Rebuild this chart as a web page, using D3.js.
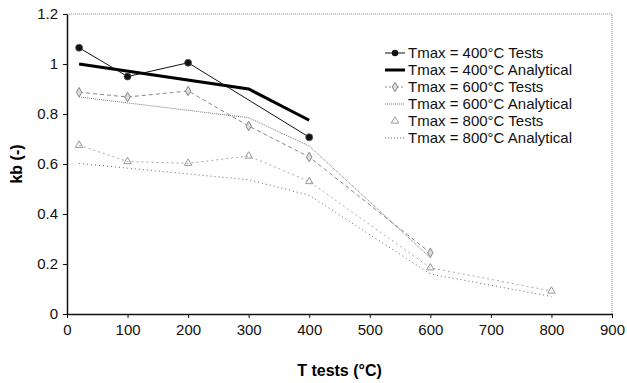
<!DOCTYPE html>
<meta charset="utf-8">
<style>
    body { margin: 0; padding: 0; background: #fff; }
    text { font-family: Arial, "Liberation Sans", sans-serif; }
    .axis text { font-size: 15px; fill: #111; }
    .axis path, .axis line { stroke: #111; }
</style>
<body>
<script src="https://d3js.org/d3.v7.min.js"></script>
<script>
    // data
    var t400Tests = [[20, 1.065], [100, 0.95], [200, 1.005], [400, 0.707]];
    var t400Anal = [[20, 1.0], [300, 0.9], [400, 0.775]];
    var t600Tests = [[20, 0.887], [100, 0.868], [200, 0.892], [300, 0.752], [400, 0.628], [600, 0.245]];
    var t600Anal = [[20, 0.868], [300, 0.785], [400, 0.672], [600, 0.225]];
    var t800Tests = [[20, 0.675], [100, 0.61], [200, 0.603], [300, 0.632], [400, 0.53], [600, 0.185], [800, 0.092]];
    var t800Anal = [[20, 0.602], [300, 0.537], [400, 0.475], [600, 0.16], [800, 0.07]];
    var xTicks = [0, 100, 200, 300, 400, 500, 600, 700, 800, 900];
    var yTicks = [0, 0.2, 0.4, 0.6, 0.8, 1, 1.2];
    var legendLabels = ["Tmax = 400°C Tests", "Tmax = 400°C Analytical", "Tmax = 600°C Tests",
        "Tmax = 600°C Analytical", "Tmax = 800°C Tests", "Tmax = 800°C Analytical"];

    var width = 627, height = 383;
    var margin = {top: 14, right: 15, bottom: 69, left: 67};

    var svg = d3.select("body").append("svg")
        .attr("width", width)
        .attr("height", height);

    var x = d3.scaleLinear().domain([0, 900]).range([margin.left, width - margin.right]);
    var y = d3.scaleLinear().domain([0, 1.2]).range([height - margin.bottom, margin.top]);

    // plot area border (dotted top/right)
    svg.append("path")
        .attr("d", "M" + x(0) + "," + y(1.2) + "H" + x(900) + "V" + y(0))
        .attr("fill", "none")
        .attr("stroke", "#888")
        .attr("stroke-width", 1)
        .attr("stroke-dasharray", "1,1");

    var line = d3.line().x(function(d) { return x(d[0]); }).y(function(d) { return y(d[1]); });

    var series = [
        {data: t800Anal, stroke: "#666", width: 1, dash: "1,3"},
        {data: t800Tests, stroke: "#aaa", width: 1, dash: "2,3"},
        {data: t600Anal, stroke: "#777", width: 1, dash: "1,1"},
        {data: t600Tests, stroke: "#888", width: 1, dash: "4,3"},
        {data: t400Anal, stroke: "#000", width: 3, dash: null},
        {data: t400Tests, stroke: "#111", width: 1, dash: null}
    ];

    series.forEach(function(s) {
        svg.append("path")
            .datum(s.data)
            .attr("d", line)
            .attr("fill", "none")
            .attr("stroke", s.stroke)
            .attr("stroke-width", s.width)
            .attr("stroke-dasharray", s.dash);
    });

    var diamond = d3.symbol().type(d3.symbolDiamond).size(26);
    var triangle = d3.symbol().type(d3.symbolTriangle).size(24);

    svg.append("g").selectAll("path")
        .data(t800Tests)
        .enter().append("path")
        .attr("d", triangle)
        .attr("transform", function(d) { return "translate(" + x(d[0]) + "," + y(d[1]) + ")"; })
        .attr("fill", "none")
        .attr("stroke", "#999");

    svg.append("g").selectAll("path")
        .data(t600Tests)
        .enter().append("path")
        .attr("d", diamond)
        .attr("transform", function(d) { return "translate(" + x(d[0]) + "," + y(d[1]) + ")"; })
        .attr("fill", "#ddd")
        .attr("stroke", "#888");

    svg.append("g").selectAll("circle")
        .data(t400Tests)
        .enter().append("circle")
        .attr("cx", function(d) { return x(d[0]); })
        .attr("cy", function(d) { return y(d[1]); })
        .attr("r", 3.5)
        .attr("fill", "#111")
        .attr("stroke", "#555")
        .attr("stroke-width", 0.8);

    // axes
    svg.append("g")
        .attr("class", "axis")
        .attr("transform", "translate(0," + y(0) + ")")
        .call(d3.axisBottom(x).tickValues(xTicks).tickSize(4).tickSizeOuter(0).tickPadding(6))
        .call(function(g) { g.select(".domain").attr("stroke-width", 1.5); });

    svg.append("g")
        .attr("class", "axis")
        .attr("transform", "translate(" + x(0) + ",0)")
        .call(d3.axisLeft(y).tickValues(yTicks).tickSize(4).tickSizeOuter(0).tickPadding(5)
            .tickFormat(function(d) { return d3.format("")(+d.toFixed(1)); }))
        .call(function(g) { g.select(".domain").attr("stroke-width", 1.5); });

    // axis titles
    svg.append("text")
        .attr("x", (x(0) + x(900)) / 2)
        .attr("y", 376)
        .attr("text-anchor", "middle")
        .style("font-size", "16px")
        .style("font-weight", "bold")
        .text("T tests (°C)");

    svg.append("text")
        .attr("transform", "translate(22," + ((y(0) + y(1.2)) / 2) + ") rotate(-90)")
        .attr("text-anchor", "middle")
        .style("font-size", "16px")
        .style("font-weight", "bold")
        .text("kb (-)");

    // legend
    var legend = svg.append("g").attr("transform", "translate(385,53)");
    var keys = [
        {stroke: "#111", width: 1, dash: null, mark: "circle"},
        {stroke: "#000", width: 3, dash: null, mark: null},
        {stroke: "#888", width: 1, dash: "2,2", mark: "diamond"},
        {stroke: "#777", width: 1, dash: "1,1", mark: null},
        {stroke: "none", width: 1, dash: null, mark: "triangle"},
        {stroke: "#666", width: 1, dash: "1,2", mark: null}
    ];
    keys.forEach(function(k, i) {
        var g = legend.append("g").attr("transform", "translate(0," + (i * 17) + ")");
        g.append("line")
            .attr("x1", 0).attr("x2", 20).attr("y1", 0).attr("y2", 0)
            .attr("stroke", k.stroke)
            .attr("stroke-width", k.width)
            .attr("stroke-dasharray", k.dash);
        if (k.mark === "circle") {
            g.append("circle").attr("cx", 10).attr("cy", 0).attr("r", 3.2).attr("fill", "#111");
        } else if (k.mark === "diamond") {
            g.append("path").attr("d", diamond).attr("transform", "translate(10,0)")
                .attr("fill", "#ddd").attr("stroke", "#888");
        } else if (k.mark === "triangle") {
            g.append("path").attr("d", triangle).attr("transform", "translate(10,0)")
                .attr("fill", "none").attr("stroke", "#999");
        }
        g.append("text")
            .attr("x", 23)
            .attr("y", 0)
            .attr("dy", "0.35em")
            .style("font-size", "15px")
            .style("fill", "#111")
            .text(legendLabels[i]);
    });
</script>
</body>
</html>
